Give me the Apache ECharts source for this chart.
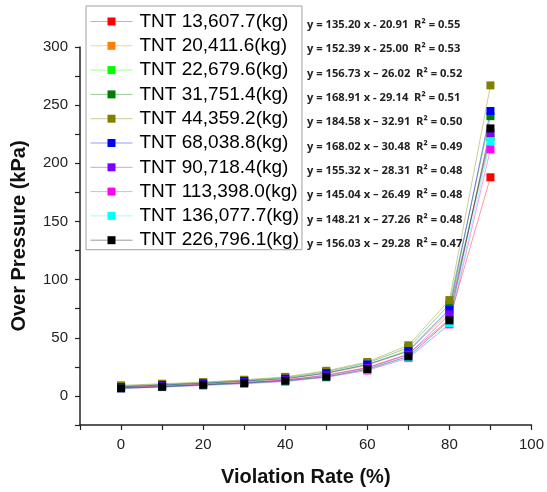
<!DOCTYPE html>
<html>
<head>
<meta charset="utf-8">
<script src="https://cdn.jsdelivr.net/npm/echarts@6/dist/echarts.min.js"></script>
<style>html,body{margin:0;padding:0;background:#fff}#c{width:547px;height:492px}</style>
</head>
<body>
<div id="c"></div>
<script>
// ---- data ----
const violationRate = [0, 10, 20, 30, 40, 50, 60, 70, 80, 90];
const seriesNames = ['TNT 13,607.7(kg)', 'TNT 20,411.6(kg)', 'TNT 22,679.6(kg)', 'TNT 31,751.4(kg)', 'TNT 44,359.2(kg)',
  'TNT 68,038.8(kg)', 'TNT 90,718.4(kg)', 'TNT 113,398.0(kg)', 'TNT 136,077.7(kg)', 'TNT 226,796.1(kg)'];
const tnt13607 = [7.2, 8.5, 9.9, 11.6, 13.7, 18.0, 24.5, 36.0, 66.0, 188.0];
const tnt20411 = [7.7, 9.1, 10.6, 12.4, 14.6, 19.3, 26.3, 38.5, 72.0, 222.0];
const tnt22679 = [7.9, 9.3, 10.8, 12.7, 15.0, 19.8, 27.0, 39.5, 75.0, 223.0];
const tnt31751 = [8.5, 9.9, 11.4, 13.4, 15.7, 20.8, 28.3, 41.5, 78.6, 240.5];
const tnt44359 = [9.1, 10.5, 11.9, 13.9, 16.4, 21.6, 29.2, 43.5, 82.4, 267.0];
const tnt68038 = [7.7, 9.4, 10.8, 12.8, 14.8, 19.6, 27.0, 38.5, 74.0, 245.0];
const tnt90718 = [7.0, 8.3, 9.8, 11.5, 13.5, 17.5, 24.0, 35.5, 70.0, 226.0];
const tnt113398 = [6.4, 7.6, 9.0, 10.5, 12.3, 16.0, 21.9, 32.5, 61.5, 212.0];
const tnt136077 = [6.5, 7.7, 9.2, 10.7, 12.6, 16.3, 22.4, 33.0, 62.5, 219.0];
const tnt226796 = [6.6, 7.8, 9.5, 11.0, 13.0, 16.5, 23.0, 34.0, 65.0, 230.0];
const equations = [
  'y = 135.20 x - 20.91  R² = 0.55',
  'y = 152.39 x - 25.00  R² = 0.53',
  'y = 156.73 x – 26.02  R² = 0.52',
  'y = 168.91 x - 29.14  R² = 0.51',
  'y = 184.58 x – 32.91  R² = 0.50',
  'y = 168.02 x – 30.48  R² = 0.49',
  'y = 155.32 x – 28.31  R² = 0.48',
  'y = 145.04 x – 26.49  R² = 0.48',
  'y = 148.21 x – 27.26  R² = 0.48',
  'y = 156.03 x – 29.28  R² = 0.47'
];
// ---- styling ----
const allValues = [tnt13607, tnt20411, tnt22679, tnt31751, tnt44359, tnt68038, tnt90718, tnt113398, tnt136077, tnt226796];
const colors = ['#ff0000', '#ff8000', '#00ff00', '#008000', '#808000', '#0000ff', '#8000ff', '#ff00ff', '#00ffff', '#000000'];
const FONT = '"Liberation Sans", Arial, sans-serif';

const series = allValues.map((vals, i) => ({
  name: seriesNames[i],
  type: 'line',
  data: violationRate.map((x, j) => [x, vals[j]]),
  symbol: 'rect',
  symbolSize: 8,
  itemStyle: { color: colors[i], opacity: 1 },
  lineStyle: { color: colors[i], width: 1, opacity: 0.4 },
  emphasis: { disabled: true },
  animation: false
}));

const graphics = equations.map((t, i) => ({
  type: 'text',
  x: 307,
  y: 25 + i * 24.3,
  style: { text: t, fill: '#222', font: 'bold 11.2px "Open Sans", sans-serif', verticalAlign: 'middle' },
  z: 100
}));

const axisCommon = {
  axisLine: { show: true, onZero: false, lineStyle: { color: '#222', width: 1.5 } },
  axisTick: { show: true, inside: false, length: 5, lineStyle: { color: '#222', width: 1.2 } },
  splitLine: { show: false },
  axisLabel: { color: '#222', fontFamily: FONT, fontSize: 15 },
  nameTextStyle: { color: '#111', fontFamily: FONT, fontSize: 20, fontWeight: 'bold' }
};

const chart = echarts.init(document.getElementById('c'), null, { renderer: 'canvas' });
chart.setOption({
  animation: false,
  backgroundColor: '#ffffff',
  grid: { left: 80, right: 13.3, top: 47, bottom: 63.5, containLabel: false },
  xAxis: Object.assign({}, axisCommon, {
    type: 'value', min: -10, max: 100, interval: 10,
    name: 'Violation Rate (%)', nameLocation: 'middle', nameGap: 42,
    axisLabel: Object.assign({}, axisCommon.axisLabel, {
      margin: 12, formatter: v => (v % 20 === 0 && v >= 0) ? String(v) : ''
    })
  }),
  yAxis: Object.assign({}, axisCommon, {
    type: 'value', min: -25, max: 300, interval: 25,
    name: 'Over Pressure (kPa)', nameLocation: 'middle', nameGap: 51,
    axisLabel: Object.assign({}, axisCommon.axisLabel, {
      margin: 12, formatter: v => (v % 50 === 0 && v >= 0) ? String(v) : ''
    })
  }),
  legend: {
    orient: 'vertical',
    left: 86, top: 6,
    padding: [6, 3, 0, 4],
    itemWidth: 42, itemHeight: 10, itemGap: 5.3,
    backgroundColor: '#ffffff',
    borderColor: '#a0a0a0', borderWidth: 1,
    lineStyle: { width: 1 },
    textStyle: { color: '#000', fontFamily: FONT, fontSize: 19, lineHeight: 18, padding: [0, 0, 0, 2] },
    data: seriesNames
  },
  graphic: graphics,
  series: series
});
</script>
</body>
</html>
